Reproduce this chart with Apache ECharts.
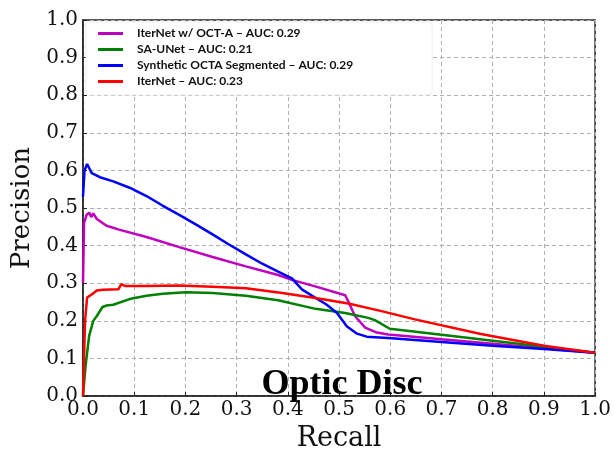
<!DOCTYPE html>
<html><head><meta charset="utf-8">
<script src="https://cdn.jsdelivr.net/npm/echarts@6/dist/echarts.min.js"></script>
<style>html,body{margin:0;padding:0;background:#fff}#c{width:614px;height:457px}</style>
</head><body><div id="c"></div>
<script>
const seriesNames = ['IterNet w/ OCT-A – AUC: 0.29','SA-UNet – AUC: 0.21','Synthetic OCTA Segmented – AUC: 0.29','IterNet – AUC: 0.23'];
const colors = ['#bf00bf','#008000','#0000ff','#ff0000'];
const tickLabels = ['0.0','0.1','0.2','0.3','0.4','0.5','0.6','0.7','0.8','0.9','1.0'];

const magentaRecall = [0, 0.002, 0.007, 0.012, 0.016, 0.02, 0.027, 0.046, 0.072, 0.124, 0.188, 0.253, 0.318, 0.381, 0.408, 0.45, 0.512, 0.518, 0.531, 0.551, 0.574, 0.596, 0.7, 0.8, 0.9, 1.0];
const magentaPrecision = [0.30, 0.46, 0.482, 0.488, 0.476, 0.486, 0.471, 0.453, 0.442, 0.423, 0.396, 0.370, 0.345, 0.322, 0.309, 0.293, 0.268, 0.252, 0.213, 0.182, 0.169, 0.164, 0.151, 0.139, 0.127, 0.115];

const greenRecall = [0, 0.005, 0.012, 0.02, 0.027, 0.038, 0.046, 0.059, 0.091, 0.124, 0.156, 0.201, 0.253, 0.318, 0.381, 0.454, 0.512, 0.557, 0.57, 0.599, 0.7, 0.8, 0.9, 1.0];
const greenPrecision = [0, 0.08, 0.16, 0.2, 0.213, 0.237, 0.241, 0.243, 0.258, 0.267, 0.272, 0.276, 0.274, 0.267, 0.255, 0.232, 0.221, 0.208, 0.202, 0.179, 0.163, 0.147, 0.131, 0.115];

const blueRecall = [0, 0.003, 0.008, 0.017, 0.033, 0.059, 0.091, 0.124, 0.156, 0.188, 0.221, 0.253, 0.285, 0.318, 0.350, 0.381, 0.408, 0.428, 0.476, 0.496, 0.515, 0.535, 0.554, 0.603, 0.7, 0.8, 0.9, 1.0];
const bluePrecision = [0.53, 0.60, 0.617, 0.593, 0.582, 0.571, 0.554, 0.532, 0.506, 0.482, 0.456, 0.430, 0.403, 0.377, 0.352, 0.331, 0.313, 0.283, 0.243, 0.221, 0.186, 0.166, 0.158, 0.154, 0.144, 0.134, 0.125, 0.115];

const redRecall = [0, 0.004, 0.008, 0.017, 0.027, 0.039, 0.069, 0.075, 0.082, 0.124, 0.188, 0.253, 0.318, 0.389, 0.454, 0.518, 0.583, 0.648, 0.777, 0.9, 1.0];
const redPrecision = [0, 0.2, 0.262, 0.27, 0.281, 0.283, 0.284, 0.298, 0.293, 0.293, 0.294, 0.291, 0.287, 0.274, 0.261, 0.246, 0.226, 0.204, 0.165, 0.134, 0.115];

const allX = [magentaRecall, greenRecall, blueRecall, redRecall];
const allY = [magentaPrecision, greenPrecision, bluePrecision, redPrecision];

const chart = echarts.init(document.getElementById('c'), null, {renderer:'canvas'});
const axisCommon = {
  type:'value', min:0, max:1, interval:0.1,
  axisLine:{show:true, onZero:false, lineStyle:{color:'#222', width:1.5}},
  axisTick:{show:true, inside:true, length:4, lineStyle:{color:'#222', width:1}},
  splitLine:{show:true, lineStyle:{color:'#b0b0b0', type:[4,3], width:1}},
  axisLabel:{fontFamily:'DejaVu Serif', fontSize:20, color:'#111', formatter:(v)=>tickLabels[Math.round(v*10)]},
  nameTextStyle:{fontFamily:'DejaVu Serif', fontSize:27, color:'#111'}
};
chart.setOption({
  animation:false,
  backgroundColor:'#fff',
  title:{text:'Optic Disc', left:337, top:362, textAlign:'center',
    textStyle:{fontFamily:'Liberation Serif', fontWeight:'bold', fontSize:36, color:'#000'}},
  grid:{left:83, right:16, top:20, bottom:56, show:true, borderColor:'#222', borderWidth:1.5, backgroundColor:'transparent'},
  legend:{
    orient:'vertical', left:86, top:22, itemWidth:25, itemHeight:3, itemGap:3,
    icon:'rect',
    backgroundColor:'#fff', borderColor:'#ececec', borderWidth:1, borderRadius:3,
    padding:[5,79,7,12],
    textStyle:{fontFamily:'Lato', fontWeight:'bold', fontSize:12, color:'#111', lineHeight:13, padding:[0,0,0,9]},
    data:seriesNames
  },
  xAxis:Object.assign({}, axisCommon, {name:'Recall', nameLocation:'middle', nameGap:22,
    axisLabel:Object.assign({}, axisCommon.axisLabel, {margin:4})}),
  yAxis:Object.assign({}, axisCommon, {name:'Precision', nameLocation:'middle', nameGap:40,
    nameTextStyle:{fontFamily:'DejaVu Serif', fontSize:26, color:'#111'},
    axisLabel:Object.assign({}, axisCommon.axisLabel, {margin:5})}),
  series: seriesNames.map((n,i)=>({
    name:n, type:'line', showSymbol:false, symbol:'none', smooth:false,
    lineStyle:{color:colors[i], width:2.5}, itemStyle:{color:colors[i]},
    data: allX[i].map((x,j)=>[x, allY[i][j]])
  }))
});
</script></body></html>
